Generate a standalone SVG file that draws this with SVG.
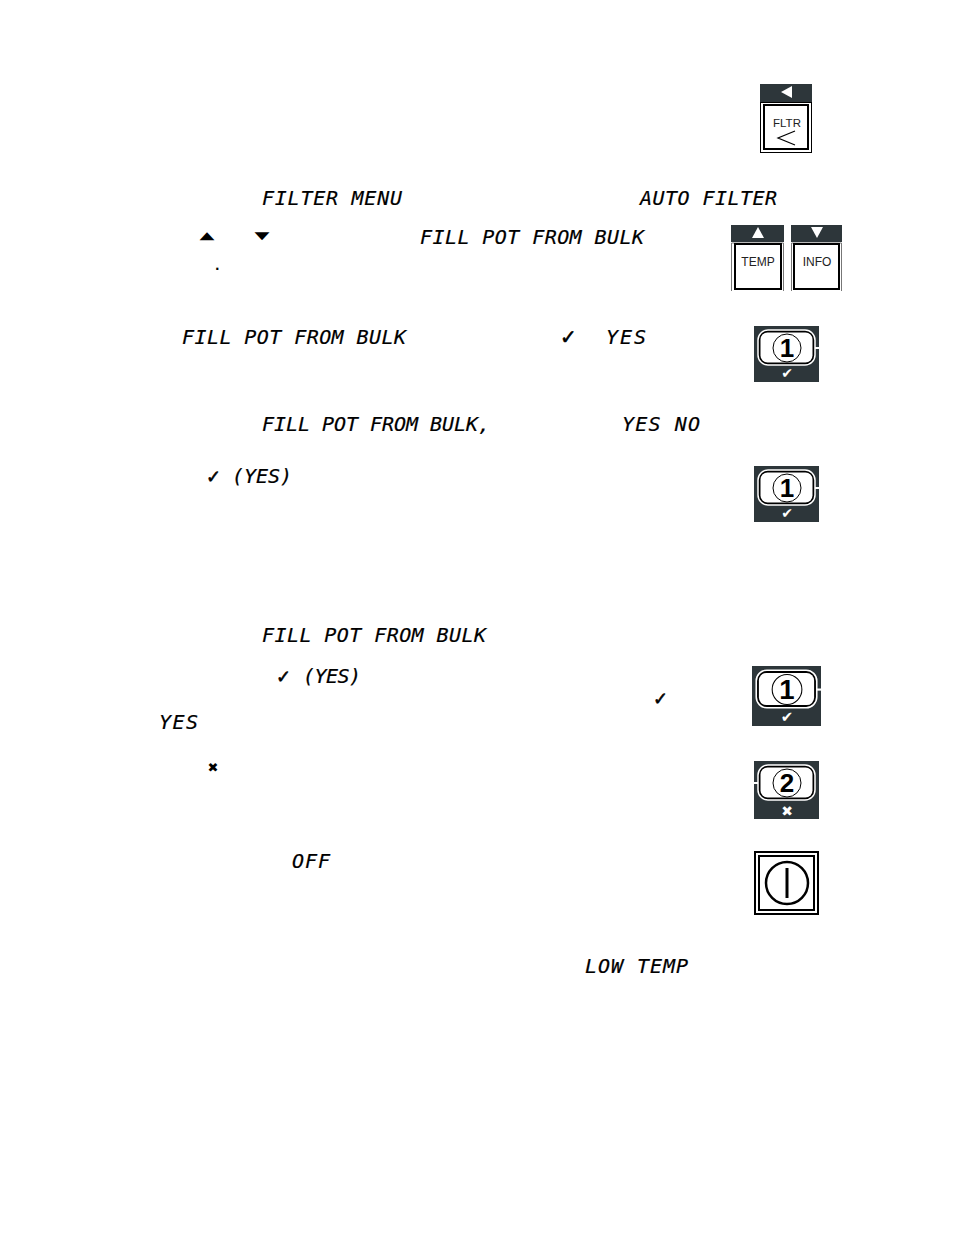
<svg xmlns="http://www.w3.org/2000/svg" width="954" height="1235" viewBox="0 0 954 1235">
<style>
.l{font-family:"DejaVu Sans Mono",monospace;font-style:italic;font-size:20px;fill:#000;stroke:#000;stroke-width:.2px}
.g{font-family:"DejaVu Sans",sans-serif;fill:#000}
.t{stroke:#000;stroke-width:.6px}
.k{font-family:"Liberation Sans",Arial,sans-serif;fill:#222;text-anchor:middle}
.d{fill:#2d363a}
.w{fill:#fff;stroke:#000;stroke-width:2}
.o{fill:#fff;stroke:#000;stroke-width:1}
.c{fill:none;stroke:#000;stroke-width:1}
.num{font-family:"Liberation Sans",Arial,sans-serif;font-size:26px;font-weight:bold;fill:#000;text-anchor:middle}
.m{font-family:"DejaVu Sans",sans-serif;fill:#fff;text-anchor:middle}
</style>
<defs>
<g id="key1">
<rect class="d" x="0" y="0" width="65" height="56"/>
<rect x="4" y="4" width="57" height="35" rx="10" fill="#000" stroke="#fff" stroke-width="1.500"/>
<rect x="6.500" y="6.500" width="52" height="30" rx="7" fill="#fff"/>
<path d="M61 22H65" stroke="#fff" stroke-width="2"/>
<circle class="c" cx="33" cy="22" r="14"/>
<text class="num" x="33" y="31">1</text>
<text class="m" x="33" y="52" font-size="14">✔</text>
</g>
</defs>
<g id="text">
<text class="l" x="262" y="205" textLength="140" lengthAdjust="spacing">FILTER MENU</text>
<text class="l" x="640" y="205" textLength="137" lengthAdjust="spacing">AUTO FILTER</text>
<text class="g" transform="translate(199.500 239) scale(1.5 .8)" font-size="13">▲</text>
<text class="g" transform="translate(254.500 239) scale(1.5 .8)" font-size="13">▼</text>
<text class="l" x="420" y="244" textLength="224" lengthAdjust="spacing">FILL POT FROM BULK</text>
<text class="g" x="215" y="270" font-size="12" font-weight="bold">.</text>
<text class="l" x="182" y="344" textLength="224" lengthAdjust="spacing">FILL POT FROM BULK</text>
<text class="g t" x="560" y="344" font-size="20">✓</text>
<text class="l" x="606" y="344" textLength="40" lengthAdjust="spacing">YES</text>
<text class="l" x="262" y="431" textLength="228" lengthAdjust="spacing">FILL POT FROM BULK,</text>
<text class="l" x="622" y="431" textLength="78" lengthAdjust="spacing">YES NO</text>
<text class="g t" x="206" y="483" font-size="18">✓</text>
<text class="l" x="232" y="483" textLength="60" lengthAdjust="spacing">(YES)</text>
<text class="l" x="262" y="642" textLength="224" lengthAdjust="spacing">FILL POT FROM BULK</text>
<text class="g t" x="276" y="683" font-size="18">✓</text>
<text class="l" x="303" y="683" textLength="58" lengthAdjust="spacing">(YES)</text>
<text class="g t" x="653" y="705" font-size="18">✓</text>
<text class="l" x="159" y="729" textLength="39" lengthAdjust="spacing">YES</text>
<text class="g" x="207.500" y="772" font-size="13">✖</text>
<text class="l" x="292" y="868" textLength="38" lengthAdjust="spacing">OFF</text>
<text class="l" x="585" y="973" textLength="103" lengthAdjust="spacing">LOW TEMP</text>
</g>
<g id="key-fltr">
<rect class="d" x="760" y="84" width="52" height="18"/>
<path d="M781 92L792 86V98Z" fill="#fff"/>
<rect class="o" x="760.500" y="102.500" width="51" height="50"/>
<rect class="w" x="764" y="105" width="44" height="44"/>
<text class="k" x="787" y="127" font-size="11.500">FLTR</text>
<path d="M795 131L778 138L795 145" fill="none" stroke="#000" stroke-width="1.200"/>
</g>
<g id="key-temp">
<rect class="d" x="731" y="225" width="53" height="17"/>
<path d="M758 227L764 238H752Z" fill="#fff"/>
<path d="M731.500 291V243H783.500V291" fill="#fff" stroke="#777"/>
<rect class="w" x="735" y="244" width="46" height="45"/>
<text class="k" x="758" y="266" font-size="12">TEMP</text>
</g>
<g id="key-info">
<rect class="d" x="791" y="225" width="51" height="17"/>
<path d="M811 227H823L817 238Z" fill="#fff"/>
<path d="M791.500 291V243H841.500V291" fill="#fff" stroke="#777"/>
<rect class="w" x="794" y="244" width="45" height="45"/>
<text class="k" x="817" y="266" font-size="12">INFO</text>
</g>
<use id="key-1a" href="#key1" x="754" y="326"/>
<use id="key-1b" href="#key1" x="754" y="466"/>
<g id="key-1c" transform="translate(752 666) scale(1.0615 1.0714)">
<use href="#key1"/>
</g>
<g id="key-2">
<rect class="d" x="754" y="761" width="65" height="58"/>
<rect x="758" y="765" width="57" height="35" rx="10" fill="#000" stroke="#fff" stroke-width="1.500"/>
<rect x="760.500" y="767.500" width="52" height="30" rx="7" fill="#fff"/>
<path d="M754 783H758" stroke="#fff" stroke-width="2"/>
<circle class="c" cx="787" cy="783" r="14"/>
<text class="num" x="787" y="792">2</text>
<text class="m" x="787" y="816" font-size="14">✖</text>
</g>
<g id="key-power">
<rect x="755" y="852" width="63" height="62" fill="#fff" stroke="#000" stroke-width="2"/>
<rect x="759" y="856" width="55" height="54" fill="#fff" stroke="#000" stroke-width="2"/>
<circle cx="787" cy="883" r="21" fill="none" stroke="#000" stroke-width="2.500"/>
<path d="M787 868V898" stroke="#000" stroke-width="3"/>
</g>
</svg>
